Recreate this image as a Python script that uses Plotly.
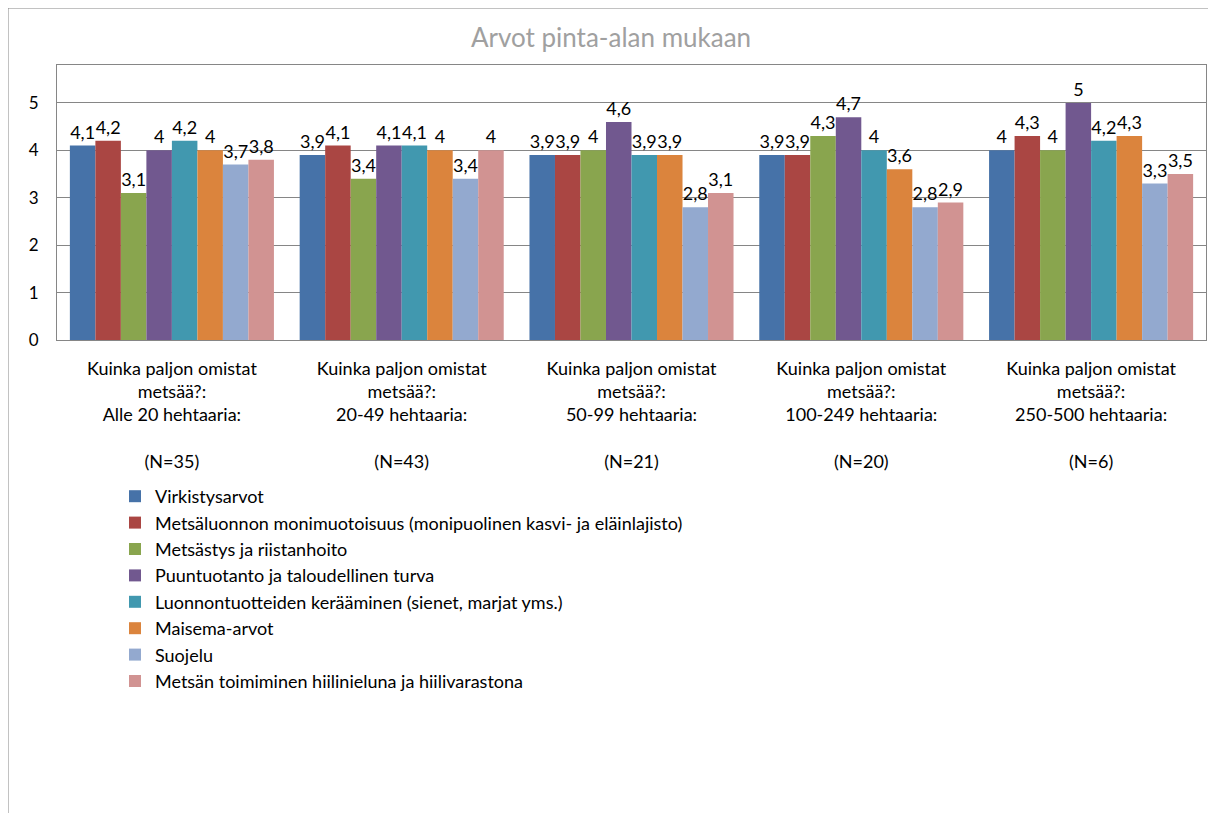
import plotly.graph_objects as go

categories = [
    "Kuinka paljon omistat<br>metsää?:<br>Alle 20 hehtaaria:<br> <br>(N=35)",
    "Kuinka paljon omistat<br>metsää?:<br>20-49 hehtaaria:<br> <br>(N=43)",
    "Kuinka paljon omistat<br>metsää?:<br>50-99 hehtaaria:<br> <br>(N=21)",
    "Kuinka paljon omistat<br>metsää?:<br>100-249 hehtaaria:<br> <br>(N=20)",
    "Kuinka paljon omistat<br>metsää?:<br>250-500 hehtaaria:<br> <br>(N=6)",
]

series_names = [
    "Virkistysarvot",
    "Metsäluonnon monimuotoisuus (monipuolinen kasvi- ja eläinlajisto)",
    "Metsästys ja riistanhoito",
    "Puuntuotanto ja taloudellinen turva",
    "Luonnontuotteiden kerääminen (sienet, marjat yms.)",
    "Maisema-arvot",
    "Suojelu",
    "Metsän toimiminen hiilinieluna ja hiilivarastona",
]

virkistys = [4.1, 3.9, 3.9, 3.9, 4.0]
monimuotoisuus = [4.2, 4.1, 3.9, 3.9, 4.3]
metsastys = [3.1, 3.4, 4.0, 4.3, 4.0]
puuntuotanto = [4.0, 4.1, 4.6, 4.7, 5.0]
luonnontuotteet = [4.2, 4.1, 3.9, 4.0, 4.2]
maisema = [4.0, 4.0, 3.9, 3.6, 4.3]
suojelu = [3.7, 3.4, 2.8, 2.8, 3.3]
hiilinielu = [3.8, 4.0, 3.1, 2.9, 3.5]

series_values = [virkistys, monimuotoisuus, metsastys, puuntuotanto,
                 luonnontuotteet, maisema, suojelu, hiilinielu]

colors = ["#4672A8", "#AA4643", "#89A54E", "#71588F",
          "#4198AF", "#DB843D", "#93A9CF", "#D19392"]

ytick_vals = [0, 1, 2, 3, 4, 5]

FONT = "Lato"
W, H = 1208, 805          # page body has an 8px margin
ML, MR, MT, MB = 49, 10, 57, 473
PW = W - ML - MR
PH = H - MT - MB

def fmt(v):
    return ("%g" % v).replace(".", ",")

fig = go.Figure()
for name, vals, col in zip(series_names, series_values, colors):
    fig.add_trace(go.Bar(
        x=categories, y=vals, name=name,
        marker=dict(color=col, line=dict(width=0)),
        text=[fmt(v) for v in vals],
        textposition="outside",
        textfont=dict(family=FONT, size=18, color="#000000"),
        constraintext="none",
        cliponaxis=False,
    ))

fig.update_layout(
    width=W, height=H,
    barmode="group",
    bargap=0.112, bargroupgap=0,
    paper_bgcolor="white", plot_bgcolor="white",
    margin=dict(l=ML, r=MR, t=MT, b=MB, pad=0),
    title=dict(text="Arvot pinta-alan mukaan", x=603 / W, xanchor="center",
               y=1 - 30 / H, yanchor="middle",
               font=dict(family=FONT, size=26, color="#A0A0A0")),
    font=dict(family=FONT, size=17, color="#000000"),
    showlegend=True,
    legend=dict(orientation="v", x=(107 - ML) / PW, xanchor="left",
                y=-(470 - (MT + PH)) / PH, yanchor="top",
                font=dict(family=FONT, size=18, color="#000000"),
                tracegroupgap=0, itemwidth=30, bgcolor="rgba(0,0,0,0)"),
)

fig.update_yaxes(range=[0, 5.8], tickvals=ytick_vals, ticktext=[str(v) for v in ytick_vals],
                 showgrid=True, gridcolor="#868686", gridwidth=1,
                 zeroline=False, showline=True, linecolor="#868686", linewidth=1,
                 mirror=True, ticks="", ticklabelstandoff=14,
                 tickfont=dict(family=FONT, size=17, color="#000000"))
fig.update_xaxes(showline=True, linecolor="#868686", linewidth=1, mirror=True,
                 ticks="", tickangle=0, ticklabelstandoff=12,
                 tickfont=dict(family=FONT, size=18, color="#000000"))

# chart area border (partially visible in the crop)
fig.add_shape(type="rect", xref="paper", yref="paper",
              x0=(0 - ML) / PW, x1=(W + 20 - ML) / PW,
              y0=-(H + 20 - (MT + PH)) / PH, y1=(MT + PH) / PH,
              line=dict(color="#868686", width=1), fillcolor="rgba(0,0,0,0)", layer="below")

fig.write_html("out.html")
